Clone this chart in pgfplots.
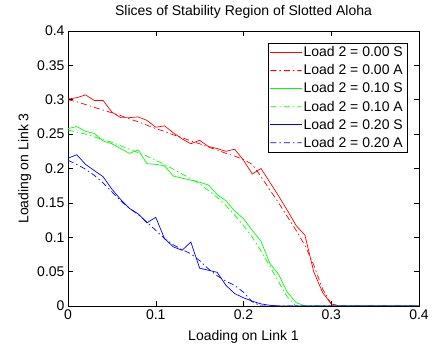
\documentclass[border=0pt]{standalone}
\usepackage{fontspec}
\setmainfont{Liberation Sans}
\usepackage{pgfplots}
\pgfplotsset{compat=1.18}
\usetikzlibrary{calc}
\pgfplotsset{
  dashleg/.style={legend image code/.code={\fill[##1, draw=none]
     (0bp,-0.4bp) rectangle (6bp,0.4bp)
     (9bp,-0.4bp) rectangle (10.5bp,0.4bp)
     (13.5bp,-0.4bp) rectangle (19.5bp,0.4bp)
     (22.5bp,-0.4bp) rectangle (24bp,0.4bp)
     (27bp,-0.4bp) rectangle (31.2bp,0.4bp);}},
}
\begin{document}
\begin{tikzpicture}
\begin{axis}[
  name=ax,
  scale only axis,
  width=351bp, height=275bp,
  xmin=0, xmax=0.4, ymin=0, ymax=0.4,
  xtick={0,0.1,0.2,0.3,0.4},
  ytick={0,0.05,0.1,0.15,0.2,0.25,0.3,0.35,0.4},
  xticklabels={0,0.1,0.2,0.3,0.4},
  yticklabels={0,0.05,0.1,0.15,0.2,0.25,0.3,0.35,0.4},
  tick align=inside,
  major tick length=5bp,
  tick style={black, line width=0.5pt},
  axis line style={black, line width=0.8pt},
  font=\fontsize{14bp}{17bp}\selectfont,
  title={Slices of Stability Region of Slotted Aloha},
  title style={yshift=3bp},
  xlabel={Loading on Link 1},
  ylabel={Loading on Link 3},
  xlabel style={yshift=-4bp},
  ylabel style={yshift=-1bp},
  legend style={at={(1,1)}, anchor=north east, xshift=-12bp, yshift=-11.6bp,
    inner sep=2bp, row sep=2.4bp, text=black},
  legend cell align=left,
  legend image code/.code={\fill[#1, draw=none] (0cm,-0.4bp) rectangle (1.1cm,0.4bp);},
  every axis plot/.append style={line width=0.7pt},
]
\addplot[color=red, solid] coordinates {
(0,0.301)(0.01,0.303)(0.02,0.307)(0.03,0.299)(0.04,0.299)(0.05,0.282)(0.06,0.274)(0.07,0.274)(0.08,0.275)(0.09,0.270)(0.10,0.260)(0.11,0.262)(0.12,0.252)(0.13,0.243)(0.14,0.236)(0.15,0.241)(0.16,0.232)(0.17,0.229)(0.18,0.225)(0.19,0.228)(0.20,0.212)(0.21,0.192)(0.22,0.200)(0.23,0.180)(0.24,0.160)(0.25,0.139)(0.26,0.117)(0.27,0.103)(0.28,0.050)(0.29,0.020)(0.30,0.003)(0.31,0)(0.32,0)(0.34,0)(0.36,0)(0.38,0)(0.40,0)
};
\addlegendentry{Load 2 = 0.00 S}
\addplot[color=red, dash pattern=on 6bp off 3bp on 1.5bp off 3bp, dashleg] coordinates {
(0,0.300)(0.01,0.297)(0.02,0.293)(0.03,0.289)(0.04,0.285)(0.05,0.281)(0.06,0.277)(0.07,0.272)(0.08,0.268)(0.09,0.263)(0.10,0.258)(0.11,0.254)(0.12,0.249)(0.13,0.245)(0.14,0.240)(0.15,0.236)(0.16,0.231)(0.17,0.227)(0.18,0.222)(0.19,0.218)(0.20,0.213)(0.21,0.206)(0.22,0.188)(0.23,0.169)(0.24,0.150)(0.25,0.130)(0.26,0.110)(0.27,0.088)(0.28,0.060)(0.29,0.025)(0.30,0.003)(0.31,0)(0.32,0)(0.34,0)(0.36,0)(0.38,0)(0.40,0)
};
\addlegendentry{Load 2 = 0.00 A}
\addplot[color=green, solid] coordinates {
(0,0.258)(0.01,0.261)(0.02,0.254)(0.03,0.251)(0.04,0.240)(0.05,0.236)(0.06,0.229)(0.07,0.222)(0.08,0.227)(0.09,0.207)(0.10,0.206)(0.11,0.204)(0.12,0.189)(0.13,0.186)(0.14,0.183)(0.15,0.180)(0.16,0.176)(0.17,0.162)(0.18,0.153)(0.19,0.138)(0.20,0.127)(0.21,0.110)(0.22,0.094)(0.23,0.062)(0.24,0.046)(0.25,0.020)(0.26,0.005)(0.27,0)(0.28,0)(0.30,0)(0.32,0)(0.34,0)(0.36,0)(0.38,0)(0.40,0)
};
\addlegendentry{Load 2 = 0.10 S}
\addplot[color=green, dash pattern=on 6bp off 3bp on 1.5bp off 3bp, dashleg] coordinates {
(0,0.256)(0.01,0.253)(0.02,0.250)(0.03,0.246)(0.04,0.242)(0.05,0.238)(0.06,0.233)(0.07,0.228)(0.08,0.223)(0.09,0.218)(0.10,0.212)(0.11,0.206)(0.12,0.199)(0.13,0.192)(0.14,0.185)(0.15,0.178)(0.16,0.168)(0.17,0.158)(0.18,0.146)(0.19,0.132)(0.20,0.117)(0.21,0.100)(0.22,0.080)(0.23,0.058)(0.24,0.035)(0.25,0.013)(0.26,0)(0.28,0)(0.30,0)(0.32,0)(0.34,0)(0.36,0)(0.38,0)(0.40,0)
};
\addlegendentry{Load 2 = 0.10 A}
\addplot[color=blue, solid] coordinates {
(0,0.215)(0.01,0.220)(0.02,0.206)(0.03,0.197)(0.04,0.188)(0.05,0.170)(0.06,0.155)(0.07,0.142)(0.08,0.134)(0.09,0.121)(0.10,0.129)(0.11,0.098)(0.12,0.086)(0.13,0.081)(0.14,0.093)(0.15,0.055)(0.16,0.052)(0.17,0.049)(0.18,0.030)(0.19,0.018)(0.20,0.012)(0.21,0.007)(0.22,0.003)(0.23,0.001)(0.24,0)(0.26,0)(0.28,0)(0.30,0)(0.32,0)(0.34,0)(0.36,0)(0.38,0)(0.40,0)
};
\addlegendentry{Load 2 = 0.20 S}
\addplot[color=blue, dash pattern=on 6bp off 3bp on 1.5bp off 3bp, dashleg] coordinates {
(0,0.212)(0.01,0.206)(0.02,0.199)(0.03,0.190)(0.04,0.179)(0.05,0.166)(0.06,0.153)(0.07,0.142)(0.08,0.133)(0.09,0.122)(0.10,0.110)(0.11,0.098)(0.12,0.089)(0.13,0.082)(0.14,0.076)(0.15,0.066)(0.16,0.054)(0.17,0.044)(0.18,0.036)(0.19,0.030)(0.20,0.020)(0.21,0.006)(0.22,0)(0.24,0)(0.26,0)(0.28,0)(0.30,0)(0.32,0)(0.34,0)(0.36,0)(0.38,0)(0.40,0)
};
\addlegendentry{Load 2 = 0.20 A}
\end{axis}
\pgfresetboundingbox
\path[use as bounding box] ($(ax.south west)+(-68bp,-44bp)$) rectangle ($(ax.north east)+(16bp,31bp)$);
\end{tikzpicture}
\end{document}
